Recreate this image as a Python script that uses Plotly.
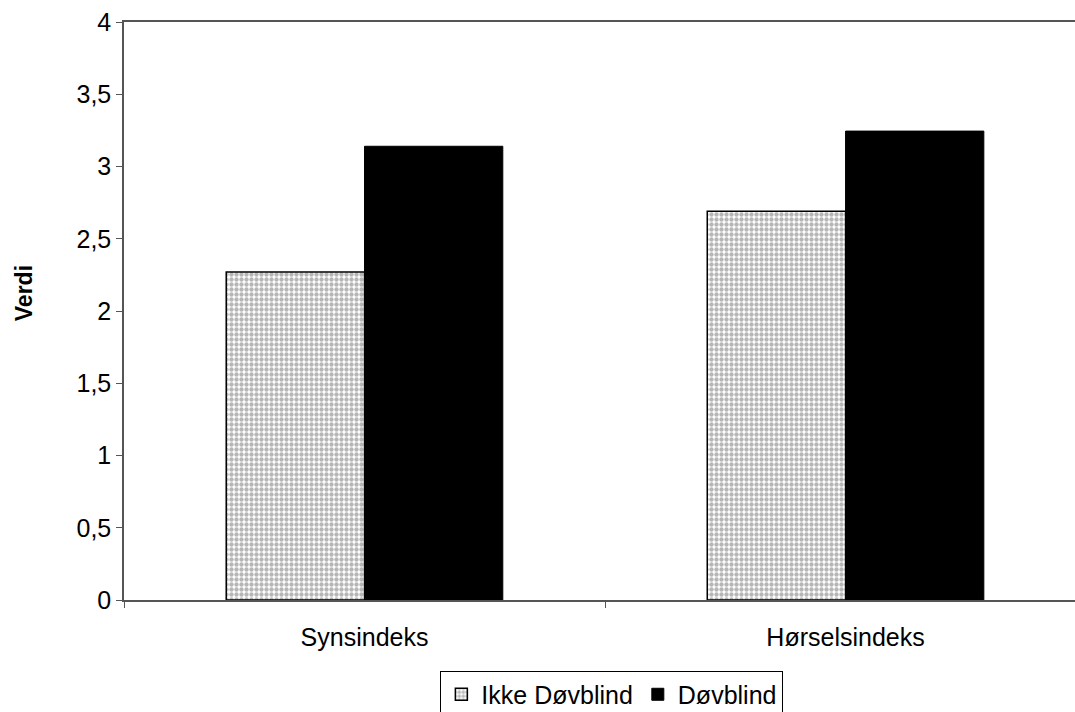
import plotly.graph_objects as go

categories = ["Synsindeks", "Hørselsindeks"]
ikke_dovblind = [2.27, 2.69]
dovblind = [3.14, 3.245]
series_names = ["Ikke Døvblind", "Døvblind"]
y_ticks = [0, 0.5, 1, 1.5, 2, 2.5, 3, 3.5, 4]

fig = go.Figure()
fig.add_trace(go.Bar(
    x=categories, y=ikke_dovblind, name=series_names[0],
    marker=dict(color="white", line=dict(color="black", width=1.5),
                pattern=dict(shape=".", fgcolor="#6e6e6e", bgcolor="white", size=5, solidity=0.6)),
))
fig.add_trace(go.Bar(
    x=categories, y=dovblind, name=series_names[1],
    marker=dict(color="black", line=dict(color="black", width=1)),
))

fig.update_layout(
    width=1075, height=712,
    margin=dict(l=124, r=0, t=22, b=112, autoexpand=False),
    paper_bgcolor="white", plot_bgcolor="white",
    barmode="group", bargap=0.425, bargroupgap=0,
    separators=", ",
    font=dict(family="Liberation Sans, Arial, sans-serif", size=25, color="black"),
    showlegend=True,
    legend=dict(orientation="h", x=0.513, xanchor="center", y=-0.122, yanchor="top",
                bordercolor="black", borderwidth=1, font=dict(size=25),
                itemwidth=30, traceorder="normal", tracegroupgap=0),
    xaxis=dict(range=[-0.5, 1.477], showline=True, linecolor="#555555", linewidth=1.5,
               mirror=True, ticks="outside", tickson="boundaries", ticklen=6,
               tickcolor="#555555", showgrid=False, fixedrange=True,
               ticklabelstandoff=14, automargin=False),
    yaxis=dict(range=[0, 4], tickvals=y_ticks, showline=True, linecolor="#555555", linewidth=1.5,
               ticks="outside", ticklen=6, tickcolor="#555555", showgrid=False, zeroline=False,
               automargin=False),
    annotations=[dict(text="<b>Verdi</b>", xref="paper", yref="paper",
                      x=-0.105, y=0.531, xanchor="center", yanchor="middle",
                      textangle=-90, showarrow=False, font=dict(size=23))],
)

fig.write_html("out.html")
